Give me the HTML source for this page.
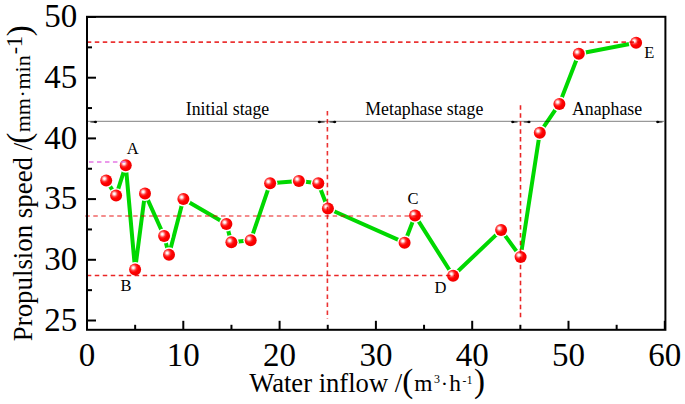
<!DOCTYPE html><html><head><meta charset="utf-8"><style>html,body{margin:0;padding:0;background:#fff;width:685px;height:404px;overflow:hidden}svg{display:block}text{font-family:"Liberation Serif",serif;fill:#000}</style></head><body>
<svg width="685" height="404" viewBox="0 0 685 404">
<defs><radialGradient id="g" cx="0.36" cy="0.36" r="0.72" fx="0.35" fy="0.35"><stop offset="0" stop-color="#fff"/><stop offset="0.1" stop-color="#fff4f4"/><stop offset="0.36" stop-color="#ff3030"/><stop offset="0.55" stop-color="#f00"/><stop offset="1" stop-color="#ec0000"/></radialGradient></defs>
<rect width="685" height="404" fill="#fff"/>
<path d="M106.2,180.4 L116.1,195.6 L125.75,165.25 L135.1,269.5 L145,193.6 L164.1,236 L169,254.75 L183.4,199 L226.4,224.1 L231.4,242.35 L250.7,240.35 L270.1,183.3 L298.9,180.9 L318.3,183.2 L327.9,208.5 L404.6,242.7 L415,215.6 L453.1,275.8 L501.1,230.1 L520.6,256.9 L539.8,132.7 L559.4,103.9 L578.8,53.8 L636.1,42.7" fill="none" stroke="#00d800" stroke-width="4.0" stroke-linejoin="round" stroke-linecap="round"/>
<circle cx="106.2" cy="180.4" r="7.4" fill="#fff"/>
<circle cx="116.1" cy="195.6" r="7.4" fill="#fff"/>
<circle cx="125.75" cy="165.25" r="7.4" fill="#fff"/>
<circle cx="135.1" cy="269.5" r="7.4" fill="#fff"/>
<circle cx="145" cy="193.6" r="7.4" fill="#fff"/>
<circle cx="164.1" cy="236" r="7.4" fill="#fff"/>
<circle cx="169" cy="254.75" r="7.4" fill="#fff"/>
<circle cx="183.4" cy="199" r="7.4" fill="#fff"/>
<circle cx="226.4" cy="224.1" r="7.4" fill="#fff"/>
<circle cx="231.4" cy="242.35" r="7.4" fill="#fff"/>
<circle cx="250.7" cy="240.35" r="7.4" fill="#fff"/>
<circle cx="270.1" cy="183.3" r="7.4" fill="#fff"/>
<circle cx="298.9" cy="180.9" r="7.4" fill="#fff"/>
<circle cx="318.3" cy="183.2" r="7.4" fill="#fff"/>
<circle cx="327.9" cy="208.5" r="7.4" fill="#fff"/>
<circle cx="404.6" cy="242.7" r="7.4" fill="#fff"/>
<circle cx="415" cy="215.6" r="7.4" fill="#fff"/>
<circle cx="453.1" cy="275.8" r="7.4" fill="#fff"/>
<circle cx="501.1" cy="230.1" r="7.4" fill="#fff"/>
<circle cx="520.6" cy="256.9" r="7.4" fill="#fff"/>
<circle cx="539.8" cy="132.7" r="7.4" fill="#fff"/>
<circle cx="559.4" cy="103.9" r="7.4" fill="#fff"/>
<circle cx="578.8" cy="53.8" r="7.4" fill="#fff"/>
<circle cx="636.1" cy="42.7" r="7.4" fill="#fff"/>
<circle cx="106.2" cy="180.4" r="6" fill="url(#g)"/>
<circle cx="116.1" cy="195.6" r="6" fill="url(#g)"/>
<circle cx="125.75" cy="165.25" r="6" fill="url(#g)"/>
<circle cx="135.1" cy="269.5" r="6" fill="url(#g)"/>
<circle cx="145" cy="193.6" r="6" fill="url(#g)"/>
<circle cx="164.1" cy="236" r="6" fill="url(#g)"/>
<circle cx="169" cy="254.75" r="6" fill="url(#g)"/>
<circle cx="183.4" cy="199" r="6" fill="url(#g)"/>
<circle cx="226.4" cy="224.1" r="6" fill="url(#g)"/>
<circle cx="231.4" cy="242.35" r="6" fill="url(#g)"/>
<circle cx="250.7" cy="240.35" r="6" fill="url(#g)"/>
<circle cx="270.1" cy="183.3" r="6" fill="url(#g)"/>
<circle cx="298.9" cy="180.9" r="6" fill="url(#g)"/>
<circle cx="318.3" cy="183.2" r="6" fill="url(#g)"/>
<circle cx="327.9" cy="208.5" r="6" fill="url(#g)"/>
<circle cx="404.6" cy="242.7" r="6" fill="url(#g)"/>
<circle cx="415" cy="215.6" r="6" fill="url(#g)"/>
<circle cx="453.1" cy="275.8" r="6" fill="url(#g)"/>
<circle cx="501.1" cy="230.1" r="6" fill="url(#g)"/>
<circle cx="520.6" cy="256.9" r="6" fill="url(#g)"/>
<circle cx="539.8" cy="132.7" r="6" fill="url(#g)"/>
<circle cx="559.4" cy="103.9" r="6" fill="url(#g)"/>
<circle cx="578.8" cy="53.8" r="6" fill="url(#g)"/>
<circle cx="636.1" cy="42.7" r="6" fill="url(#g)"/>
<line x1="88" y1="121.4" x2="664" y2="121.4" stroke="#000" stroke-opacity="0.4" stroke-width="1.3"/>
<path d="M95.5,121.0 L90.3,121.55 L90.3,122.45 L95.5,123.0 Z" fill="#000" fill-opacity="0.7"/><ellipse cx="95.5" cy="122.0" rx="1.6" ry="1.15" fill="#000"/>
<path d="M319.3,121.0 L324.7,121.55 L324.7,122.45 L319.3,123.0 Z" fill="#000" fill-opacity="0.7"/><ellipse cx="319.3" cy="122.0" rx="1.6" ry="1.15" fill="#000"/>
<path d="M334.7,121.0 L329.4,121.55 L329.4,122.45 L334.7,123.0 Z" fill="#000" fill-opacity="0.7"/><ellipse cx="334.7" cy="122.0" rx="1.6" ry="1.15" fill="#000"/>
<path d="M512.7,121.0 L517.6,121.55 L517.6,122.45 L512.7,123.0 Z" fill="#000" fill-opacity="0.7"/><ellipse cx="512.7" cy="122.0" rx="1.6" ry="1.15" fill="#000"/>
<path d="M529,121.0 L523.7,121.55 L523.7,122.45 L529,123.0 Z" fill="#000" fill-opacity="0.7"/><ellipse cx="529" cy="122.0" rx="1.6" ry="1.15" fill="#000"/>
<path d="M657.7,121.0 L662.6,121.55 L662.6,122.45 L657.7,123.0 Z" fill="#000" fill-opacity="0.7"/><ellipse cx="657.7" cy="122.0" rx="1.6" ry="1.15" fill="#000"/>
<line x1="86.8" y1="42.05" x2="640" y2="42.05" stroke="#e60000" stroke-opacity="0.8" stroke-width="1.7" stroke-dasharray="4.5 3.48" fill="none"/>
<line x1="85.3" y1="216" x2="423" y2="216" stroke="#e60000" stroke-opacity="0.6" stroke-width="1.7" stroke-dasharray="4.5 3.48" fill="none"/>
<line x1="86.8" y1="275.5" x2="455" y2="275.5" stroke="#e60000" stroke-opacity="0.85" stroke-width="1.7" stroke-dasharray="4.5 3.48" fill="none"/>
<line x1="89" y1="162" x2="127" y2="162" stroke="#e060e0" stroke-opacity="0.85" stroke-width="1.5" stroke-dasharray="4.5 3.48" fill="none"/>
<line x1="327.4" y1="111" x2="327.4" y2="319" stroke="#e60000" stroke-opacity="0.8" stroke-width="1.6" stroke-dasharray="4.5 3.48" fill="none"/>
<line x1="520.5" y1="105.2" x2="520.5" y2="317.5" stroke="#e60000" stroke-opacity="0.85" stroke-width="1.6" stroke-dasharray="4.5 3.48" fill="none"/>
<rect x="87" y="16.8" width="578.4" height="313.0" fill="none" stroke="#000" stroke-width="2"/>
<line x1="87" y1="17.00" x2="96" y2="17.00" stroke="#000" stroke-width="2"/>
<line x1="87" y1="47.35" x2="92" y2="47.35" stroke="#000" stroke-width="2"/>
<line x1="87" y1="77.70" x2="96" y2="77.70" stroke="#000" stroke-width="2"/>
<line x1="87" y1="108.05" x2="92" y2="108.05" stroke="#000" stroke-width="2"/>
<line x1="87" y1="138.40" x2="96" y2="138.40" stroke="#000" stroke-width="2"/>
<line x1="87" y1="168.75" x2="92" y2="168.75" stroke="#000" stroke-width="2"/>
<line x1="87" y1="199.10" x2="96" y2="199.10" stroke="#000" stroke-width="2"/>
<line x1="87" y1="229.45" x2="92" y2="229.45" stroke="#000" stroke-width="2"/>
<line x1="87" y1="259.80" x2="96" y2="259.80" stroke="#000" stroke-width="2"/>
<line x1="87" y1="290.15" x2="92" y2="290.15" stroke="#000" stroke-width="2"/>
<line x1="87" y1="320.50" x2="96" y2="320.50" stroke="#000" stroke-width="2"/>
<line x1="87.00" y1="329.8" x2="87.00" y2="320.8" stroke="#000" stroke-width="2"/>
<line x1="135.15" y1="329.8" x2="135.15" y2="324.8" stroke="#000" stroke-width="2"/>
<line x1="183.30" y1="329.8" x2="183.30" y2="320.8" stroke="#000" stroke-width="2"/>
<line x1="231.45" y1="329.8" x2="231.45" y2="324.8" stroke="#000" stroke-width="2"/>
<line x1="279.60" y1="329.8" x2="279.60" y2="320.8" stroke="#000" stroke-width="2"/>
<line x1="327.75" y1="329.8" x2="327.75" y2="324.8" stroke="#000" stroke-width="2"/>
<line x1="375.90" y1="329.8" x2="375.90" y2="320.8" stroke="#000" stroke-width="2"/>
<line x1="424.05" y1="329.8" x2="424.05" y2="324.8" stroke="#000" stroke-width="2"/>
<line x1="472.20" y1="329.8" x2="472.20" y2="320.8" stroke="#000" stroke-width="2"/>
<line x1="520.35" y1="329.8" x2="520.35" y2="324.8" stroke="#000" stroke-width="2"/>
<line x1="568.50" y1="329.8" x2="568.50" y2="320.8" stroke="#000" stroke-width="2"/>
<line x1="616.65" y1="329.8" x2="616.65" y2="324.8" stroke="#000" stroke-width="2"/>
<line x1="664.80" y1="329.8" x2="664.80" y2="320.8" stroke="#000" stroke-width="2"/>
<text x="77.2" y="330.6" font-size="33" text-anchor="end">25</text>
<text x="77.2" y="269.9" font-size="33" text-anchor="end">30</text>
<text x="77.2" y="209.2" font-size="33" text-anchor="end">35</text>
<text x="77.2" y="148.5" font-size="33" text-anchor="end">40</text>
<text x="77.2" y="87.8" font-size="33" text-anchor="end">45</text>
<text x="77.2" y="27.1" font-size="33" text-anchor="end">50</text>
<text x="87.0" y="365.8" font-size="33" text-anchor="middle">0</text>
<text x="183.3" y="365.8" font-size="33" text-anchor="middle">10</text>
<text x="279.6" y="365.8" font-size="33" text-anchor="middle">20</text>
<text x="375.9" y="365.8" font-size="33" text-anchor="middle">30</text>
<text x="472.2" y="365.8" font-size="33" text-anchor="middle">40</text>
<text x="568.5" y="365.8" font-size="33" text-anchor="middle">50</text>
<text x="664.8" y="365.8" font-size="33" text-anchor="middle">60</text>
<text x="249.2" y="391.7" font-size="26.6">Water inflow /</text>
<text x="402.3" y="391.7" font-size="33">(</text>
<text x="414.2" y="391.3" font-size="23.4">m</text>
<text x="434.0" y="383.0" font-size="12">3</text>
<text x="440.7" y="391.3" font-size="22">·</text>
<text x="449.3" y="391.3" font-size="23.4">h</text>
<text x="462.6" y="384.2" font-size="11.5">-</text>
<text x="466.8" y="383.6" font-size="11.5">1</text>
<text x="473.9" y="391.7" font-size="33">)</text>
<g transform="rotate(-90)">
<text x="-341.2" y="32" font-size="26.85">Propulsion speed /</text>
<text x="-143.8" y="29.5" font-size="33">(</text>
<text x="-132.3" y="29.6" font-size="22">mm</text>
<text x="-97.4" y="30.2" font-size="22">·</text>
<text x="-89.6" y="29.8" font-size="22">min</text>
<text x="-54.15" y="20.95" font-size="22">-</text>
<text x="-47.35" y="21.5" font-size="23">1</text>
<text x="-36.2" y="30.2" font-size="33">)</text>
</g>
<text x="185.8" y="115.0" font-size="17.8">Initial stage</text>
<text x="365.3" y="114.8" font-size="17.8">Metaphase stage</text>
<text x="572" y="115.0" font-size="17.8">Anaphase</text>
<text x="126.75" y="154" font-size="16.5">A</text>
<text x="120.5" y="290.6" font-size="16.5">B</text>
<text x="407.5" y="203.6" font-size="16.5">C</text>
<text x="434.6" y="293" font-size="16.5">D</text>
<text x="644.2" y="57.8" font-size="16.5">E</text>
</svg></body></html>
